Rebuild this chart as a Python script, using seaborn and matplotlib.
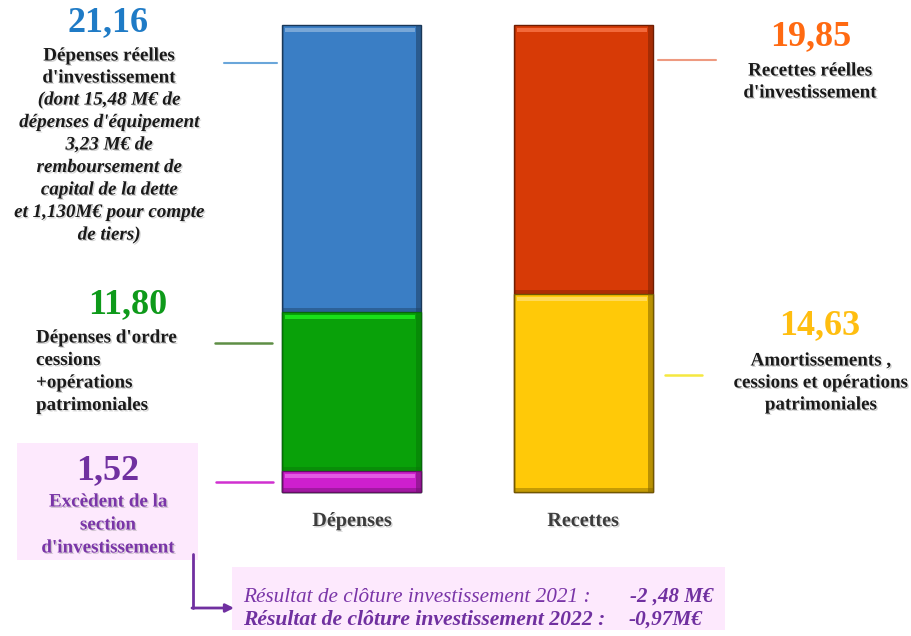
import matplotlib
matplotlib.use("Agg")
import matplotlib.pyplot as plt
import matplotlib.patheffects as pe
from matplotlib.patches import Rectangle, FancyArrowPatch
import seaborn as sns
import pandas as pd

# Section d'investissement (M€)
postes = ["Dépenses", "Recettes"]
depenses_noms = ["Excèdent de la section d'investissement", "Dépenses d'ordre", "Dépenses réelles d'investissement"]
depenses_vals = [1.52, 11.80, 21.16]
recettes_noms = ["Amortissements, cessions et opérations patrimoniales", "Recettes réelles d'investissement"]
recettes_vals = [14.63, 19.85]
depenses_couleurs = ["#CE1FCE", "#09A109", "#3A7EC5"]
recettes_couleurs = ["#FFC908", "#D73A06"]
resultat_2021 = "-2 ,48 M€"
resultat_2022 = "-0,97M€"

sns.set_theme(style="white")
plt.rcParams["font.family"] = ["Liberation Serif", "DejaVu Serif"]

W, H = 912, 636
fig = plt.figure(figsize=(W / 100, H / 100), dpi=100)
ax = fig.add_axes([0, 0, 1, 1])

# scale: category spacing 232 px, ~13.5 px per M€, baseline at y=492 px
PX_X, PX_Y, X0, Y0 = 232.0, 467.0 / sum(depenses_vals), 351.5, 492.0

def cumul(vals):
    out, s = [], 0.0
    for v in vals:
        s += v
        out.append(s)
    return out

stacks = {
    "Dépenses": (depenses_vals, cumul(depenses_vals), depenses_couleurs),
    "Recettes": (recettes_vals, cumul(recettes_vals), recettes_couleurs),
}

# stacked bars: cumulative totals, drawn from the top of each stack down
segments = []
for p in postes:
    vals, cum, cols = stacks[p]
    for i in range(len(vals) - 1, -1, -1):
        sub = pd.DataFrame({"poste": [p], "montant": [cum[i]]})
        n_before = len(ax.patches)
        sns.barplot(data=sub, x="poste", y="montant", order=postes, color=cols[i],
                    saturation=1, width=0.6, edgecolor=sns.set_hls_values(cols[i], l=0.22),
                    linewidth=1.0, ax=ax, errorbar=None)
        bar = [b for b in ax.patches[n_before:] if b.get_height() > 0][0]
        segments.append((bar.get_x(), bar.get_width(), cum[i] - vals[i], cum[i], cols[i]))

# bevel shading on each visible segment
dx, dy = 1.0 / PX_X, 1.0 / PX_Y
for x0, w, y0, y1, c in segments:
    lum = sns.utils.colorsys.rgb_to_hls(*matplotlib.colors.to_rgb(c))[1]
    light = sns.set_hls_values(c, l=min(0.88, lum + 0.2))
    dark = sns.set_hls_values(c, l=0.25)
    ax.add_patch(Rectangle((x0 + 3 * dx, y1 - 7 * dy), w - 9 * dx, 4 * dy,
                           facecolor=light, edgecolor="none", alpha=0.8, zorder=3))
    ax.add_patch(Rectangle((x0 + w - 5 * dx, y0), 5 * dx, y1 - y0,
                           facecolor=dark, edgecolor="none", alpha=0.55, zorder=3))
    ax.add_patch(Rectangle((x0, y0), w, 4 * dy,
                           facecolor=dark, edgecolor="none", alpha=0.45, zorder=3))
    ax.add_patch(Rectangle((x0, y0), 2 * dx, y1 - y0,
                           facecolor=dark, edgecolor="none", alpha=0.3, zorder=3))

ax.set_xlim(-X0 / PX_X, (W - X0) / PX_X)
ax.set_ylim((Y0 - H) / PX_Y, Y0 / PX_Y)
ax.axis("off")

# overlay in pixel coordinates for annotations
ov = fig.add_axes([0, 0, 1, 1], facecolor="none")
ov.set_xlim(0, W)
ov.set_ylim(H, 0)
ov.axis("off")

shadow = [pe.withSimplePatchShadow(offset=(1, -1), shadow_rgbFace="#808080", alpha=0.35)]

def fmt(v):
    return f"{v:.2f}".replace(".", ",")

def txt(x, y, s, size=13.7, color="#1a1a1a", weight="bold", style="normal", ha="center", fx=True):
    ov.text(x, y, s, fontsize=size, color=color, fontweight=weight, fontstyle=style,
            ha=ha, va="center", path_effects=shadow if fx else None)

# category labels
for p, xpx in zip(postes, [352, 583]):
    txt(xpx, 521, p, size=14.5, color="#3c3c3c")

# Dépenses réelles
txt(108, 23, fmt(depenses_vals[2]), size=26, color="#1F7BC6", fx=False)
for j, line in enumerate(["Dépenses réelles", "d'investissement"]):
    txt(109, 56 + 22 * j, line)
for j, line in enumerate(["(dont 15,48 M€ de", "dépenses d'équipement", "3,23 M€ de",
                          "remboursement de", "capital de la dette",
                          "et 1,130M€ pour compte", "de tiers)"]):
    txt(109, 100 + 22.5 * j, line, style="italic")
ov.plot([224, 277], [63, 63], color="#6AA6DA", lw=1.5)

# Dépenses d'ordre
txt(128, 305, fmt(depenses_vals[1]), size=26, color="#0E9A1A", fx=False)
for j, line in enumerate(["Dépenses d'ordre", "cessions", "+opérations", "patrimoniales"]):
    txt(36, 338 + 22.5 * j, line, ha="left")
ov.plot([215, 272], [343, 343], color="#5E8E45", lw=1.8)

# Excèdent
ov.add_patch(Rectangle((17, 443), 181, 117, facecolor="#FDE9FD", edgecolor="none"))
txt(108, 471, fmt(depenses_vals[0]), size=26, color="#7030A0", fx=False)
for j, line in enumerate(["Excèdent de la", "section", "d'investissement"]):
    txt(108, 502 + 23 * j, line, color="#7A35A8")
ov.plot([216, 273], [482, 482], color="#D030D0", lw=1.8)

# Recettes réelles
txt(811, 37, fmt(recettes_vals[1]), size=26, color="#FF6A12", fx=False)
for j, line in enumerate(["Recettes réelles", "d'investissement"]):
    txt(810, 71 + 22 * j, line)
ov.plot([658, 716], [60, 60], color="#EE9A80", lw=1.5)

# Amortissements
txt(820, 326, fmt(recettes_vals[0]), size=26, color="#FFBE10", fx=False)
for j, line in enumerate(["Amortissements ,", "cessions et opérations", "patrimoniales"]):
    txt(821, 361 + 22 * j, line)
ov.plot([665, 702], [375, 375], color="#F5E840", lw=1.8)

# Résultat de clôture
ov.add_patch(Rectangle((232, 567), 493, 63, facecolor="#FDE9FD", edgecolor="none"))
ov.plot([193, 193], [554, 608], color="#7030A0", lw=2)
ov.add_patch(FancyArrowPatch((192, 608), (234, 608), arrowstyle="-|>", mutation_scale=12,
                             color="#7030A0", lw=2, shrinkA=0, shrinkB=0))
txt(243, 597, "Résultat de clôture investissement 2021 :", size=15.3, color="#7A35A8",
    weight="normal", style="italic", ha="left", fx=False)
txt(713, 597, resultat_2021, size=15, color="#7030A0", style="italic", ha="right", fx=False)
txt(243, 620, "Résultat de clôture investissement 2022 :", size=15.6, color="#7030A0",
    style="italic", ha="left", fx=False)
txt(702, 620, resultat_2022, size=15.3, color="#7030A0", style="italic", ha="right", fx=False)

fig.savefig("out.png", dpi=100)
